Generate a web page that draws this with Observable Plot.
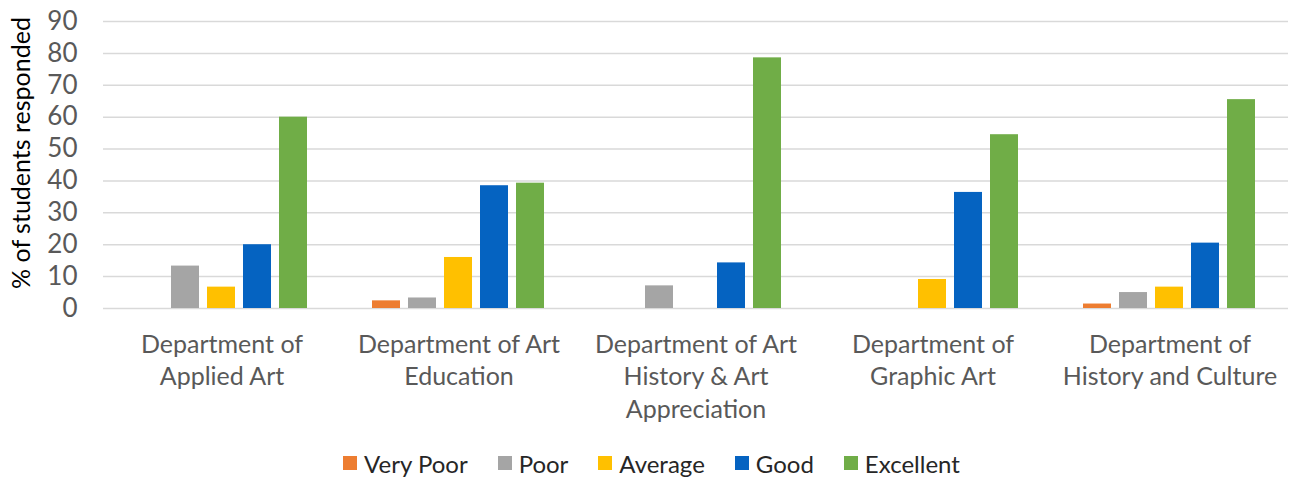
<!DOCTYPE html>
<html>
<head>
<meta charset="utf-8">
<script src="https://cdn.jsdelivr.net/npm/d3@7"></script>
<script src="https://cdn.jsdelivr.net/npm/@observablehq/plot@0.6"></script>
<style>
  html, body { margin: 0; padding: 0; background: #fff; }
  #chart svg { display: block; }
  #legend { display: flex; justify-content: center; align-items: center; height: 30px; margin-top: 8px;
            font-family: Lato, sans-serif; font-size: 24px; color: #262626; padding-left: 12px; }
  #legend .item { display: flex; align-items: center; margin: 0 15px; }
  #legend .sw { width: 14px; height: 14px; margin-right: 7px; }
</style>
</head>
<body>
<div id="chart"></div>
<div id="legend"></div>
<script>
const departments = [
  "Department of Applied Art",
  "Department of Art Education",
  "Department of Art History & Art Appreciation",
  "Department of Graphic Art",
  "Department of History and Culture"
];
const departmentLabels = [
  "Department of\nApplied Art",
  "Department of Art\nEducation",
  "Department of Art\nHistory & Art\nAppreciation",
  "Department of\nGraphic Art",
  "Department of\nHistory and Culture"
];
const ratings = ["Very Poor", "Poor", "Average", "Good", "Excellent"];
const veryPoor  = [0,    2.4,  0,    0,    1.4];
const poor      = [13.3, 3.3,  7.1,  0,    5.0];
const average   = [6.7,  16.0, 0,    9.1,  6.7];
const good      = [20.0, 38.5, 14.3, 36.4, 20.5];
const excellent = [60.0, 39.3, 78.6, 54.5, 65.5];
const colors = ["#ED7D31", "#A5A5A5", "#FFC000", "#0563C1", "#70AD47"];
const yTicks = [0, 10, 20, 30, 40, 50, 60, 70, 80, 90];
const yTitle = "% of students responded";

const series = [veryPoor, poor, average, good, excellent];
const data = departments.flatMap((dept, i) =>
  ratings.map((rating, j) => ({dept, rating, value: series[j][i]}))
);
const labelOf = new Map(departments.map((d, i) => [d, departmentLabels[i]]));

const chart = Plot.plot({
  width: 1291,
  height: 440,
  marginTop: 21,
  marginBottom: 132,
  marginLeft: 101,
  marginRight: 2,
  style: {fontFamily: "Lato, sans-serif", background: "#fff"},
  fx: {domain: departments, padding: 0, label: null, axis: null},
  x: {domain: ratings, paddingInner: 0.21, paddingOuter: 0.853, axis: null},
  y: {domain: [0, 90], axis: null},
  color: {domain: ratings, range: colors},
  marks: [
    Plot.gridY(yTicks, {stroke: "#d9d9d9", strokeOpacity: 1, strokeWidth: 1.5}),
    Plot.axisY(yTicks, {tickSize: 0, tickPadding: 26, fontSize: 26, fill: "#595959", label: null}),
    Plot.axisFx({anchor: "bottom", tickSize: 0, tickPadding: 21, fontSize: 25, fill: "#595959",
                 lineHeight: 1.3, tickFormat: d => labelOf.get(d), label: null}),
    Plot.barY(data, {fx: "dept", x: "rating", y: "value", fill: "rating"}),
    Plot.text([{dept: departments[0], t: yTitle}], {fx: "dept", text: "t", frameAnchor: "left",
                 textAnchor: "middle", rotate: -90, dx: -82, dy: -12, fontSize: 25, fill: "#000"})
  ]
});
document.getElementById("chart").appendChild(chart);

const legend = document.getElementById("legend");
ratings.forEach((r, i) => {
  const item = document.createElement("div");
  item.className = "item";
  const sw = document.createElement("div");
  sw.className = "sw";
  sw.style.background = colors[i];
  const t = document.createElement("span");
  t.textContent = r;
  item.appendChild(sw);
  item.appendChild(t);
  legend.appendChild(item);
});
</script>
</body>
</html>
